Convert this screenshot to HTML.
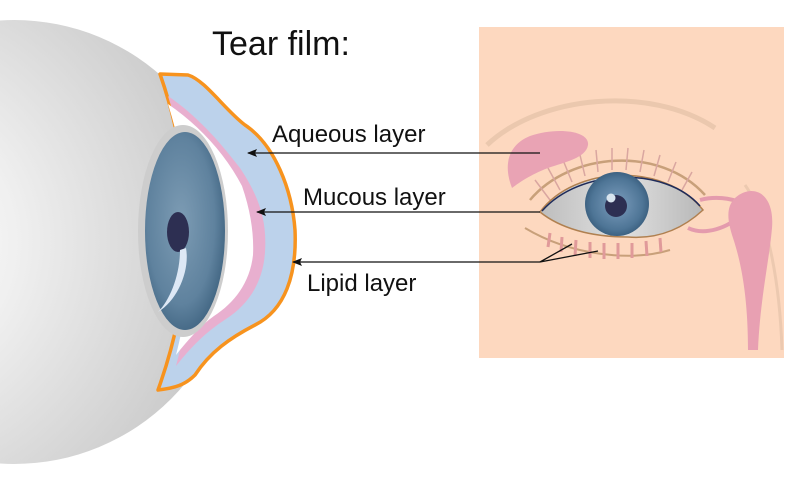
<!DOCTYPE html>
<html><head><meta charset="utf-8"><style>
body{margin:0;background:#fff;width:798px;height:485px;overflow:hidden}
svg{display:block}
text{font-family:"Liberation Sans",sans-serif;fill:#111}
</style></head><body>
<svg width="798" height="485" viewBox="0 0 798 485">
<defs>
<radialGradient id="ball" cx="0.2" cy="0.5" r="0.75">
<stop offset="0" stop-color="#ffffff"/><stop offset="0.4" stop-color="#f0f0f0"/><stop offset="1" stop-color="#cccccc"/>
</radialGradient>
<radialGradient id="iris" cx="0.45" cy="0.45" r="0.6">
<stop offset="0" stop-color="#7d9cb4"/><stop offset="0.7" stop-color="#5f829e"/><stop offset="1" stop-color="#3f6380"/>
</radialGradient>
<radialGradient id="iris2" cx="0.5" cy="0.5" r="0.5">
<stop offset="0" stop-color="#7c9dbd"/><stop offset="0.8" stop-color="#4e7596"/><stop offset="1" stop-color="#3d6282"/>
</radialGradient>
<linearGradient id="scl" x1="0" x2="1"><stop offset="0" stop-color="#bdbdbd"/><stop offset="0.5" stop-color="#e0e0e0"/><stop offset="1" stop-color="#b8b8b8"/></linearGradient>
<marker id="ar" markerWidth="10" markerHeight="8" refX="9" refY="4" orient="auto" markerUnits="userSpaceOnUse"><path d="M0,0 L10,4 L0,8 L2,4 Z" fill="#111"/></marker>
</defs>
<rect x="479" y="27" width="305" height="331" fill="#fdd8bf"/>
<path d="M487,145 C540,95 650,85 715,128" fill="none" stroke="#ebc8ae" stroke-width="5"/>
<path d="M745,185 C770,220 780,290 782,350" fill="none" stroke="#ecc9b0" stroke-width="3"/>
<path d="M525,228 C570,255 630,262 670,250" fill="none" stroke="#c8a07a" stroke-width="2"/>
<g stroke="#e09a9a" stroke-width="3">
<line x1="550" y1="233" x2="548" y2="247"/><line x1="562" y1="237" x2="561" y2="252"/><line x1="576" y1="240" x2="575" y2="256"/><line x1="590" y1="242" x2="590" y2="258"/><line x1="604" y1="243" x2="604" y2="259"/><line x1="618" y1="243" x2="618" y2="259"/><line x1="632" y1="243" x2="632" y2="258"/><line x1="646" y1="241" x2="647" y2="256"/><line x1="660" y1="238" x2="661" y2="252"/></g>
<path d="M530,200 C570,152 660,145 705,195" fill="none" stroke="#c8a07a" stroke-width="2.5"/>
<g stroke="#d9a6a0" stroke-width="1.5">
<line x1="550" y1="200" x2="535" y2="180"/><line x1="560" y1="190" x2="548" y2="168"/><line x1="572" y1="182" x2="563" y2="160"/><line x1="585" y1="176" x2="580" y2="155"/><line x1="598" y1="172" x2="596" y2="150"/><line x1="612" y1="170" x2="612" y2="148"/><line x1="626" y1="170" x2="628" y2="148"/><line x1="640" y1="172" x2="644" y2="150"/><line x1="654" y1="176" x2="660" y2="155"/><line x1="668" y1="182" x2="676" y2="162"/><line x1="682" y1="190" x2="692" y2="172"/></g>
<path d="M512,188 C503,165 508,145 530,136 C555,127 590,130 588,145 C586,158 565,162 548,168 C530,175 520,182 512,188 Z" fill="#e9a3b4"/>
<path d="M700,200 C715,196 730,198 742,203 M688,228 C705,236 728,228 742,214" fill="none" stroke="#e49bad" stroke-width="4"/>
<path d="M735,198 C752,183 775,192 772,228 C769,262 760,300 758,350 L748,350 C748,300 742,265 733,238 C727,220 726,207 735,198 Z" fill="#e8a0b2"/>
<path d="M540,212 C575,165 665,162 703,210 C690,222 665,240 628,237 C590,237 560,228 540,212 Z" fill="url(#scl)" stroke="#b08050" stroke-width="1.5"/>
<path d="M542,211 C580,168 665,166 700,206" fill="none" stroke="#1e2b5a" stroke-width="1.5"/>
<circle cx="617" cy="204" r="32" fill="url(#iris2)"/>
<circle cx="616" cy="206" r="11" fill="#2d2f52"/>
<circle cx="611" cy="198" r="4.5" fill="#d8e4ee"/>
<circle cx="14" cy="242" r="222" fill="url(#ball)"/>
<path d="M160,74 L188,75 C205,80 225,110 245,125 C275,145 292,190 295,230 C297,275 285,310 255,325 C230,338 210,352 195,375 C185,385 175,388 158,390 Q215,232 160,74 Z" fill="#bcd2eb" stroke="#f7931e" stroke-width="3.5" stroke-linejoin="round"/>
<path d="M168,96 C200,118 222,145 240,168 C260,198 267,222 265,252 C263,285 246,306 226,319 C206,332 192,346 176,366 Q212,232 168,96 Z" fill="#e8afcf"/>
<path d="M168,104 C200,126 226,155 242,186 C251,212 254,235 253,255 C250,283 234,303 214,316 C200,326 188,340 176,355 Q208,232 168,104 Z" fill="#ffffff"/>
<ellipse cx="183" cy="231" rx="45" ry="106" fill="#cdcdcd"/>
<ellipse cx="185" cy="231" rx="40" ry="99" fill="url(#iris)"/>
<ellipse cx="178" cy="232" rx="11" ry="20" fill="#2d2f52"/>
<path d="M186,248 C190,270 178,300 158,312 C170,300 180,275 180,250 Z" fill="#dde8f5"/>
<text x="212" y="55" font-size="34">Tear film:</text>
<text x="272" y="142" font-size="24">Aqueous layer</text>
<text x="303" y="205" font-size="24">Mucous layer</text>
<text x="307" y="291" font-size="24">Lipid layer</text>
<g stroke="#111" stroke-width="1.3" fill="none">
<line x1="540" y1="153" x2="248" y2="153" marker-end="url(#ar)"/>
<line x1="540" y1="212" x2="257" y2="212" marker-end="url(#ar)"/>
<line x1="540" y1="262" x2="293" y2="262" marker-end="url(#ar)"/>
<polyline points="572,244 540,262 598,251"/>
</g>
</svg>
</body></html>
